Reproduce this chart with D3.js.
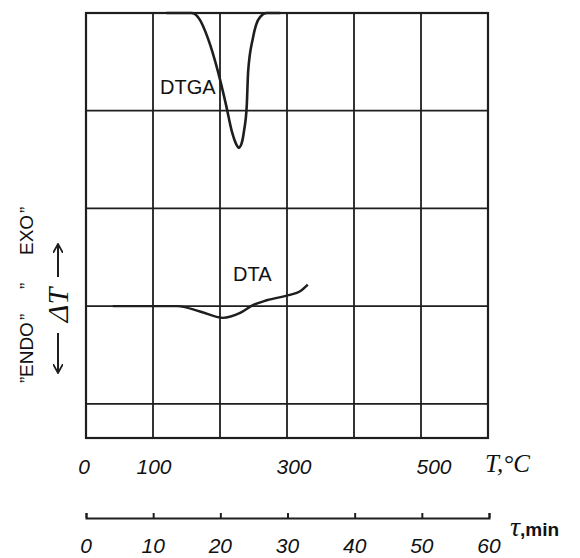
<!DOCTYPE html>
<html>
<head>
<meta charset="utf-8">
<script src="https://cdn.jsdelivr.net/npm/d3@7"></script>
<style>
  html, body { margin: 0; padding: 0; background: #fff; }
  svg { display: block; }
</style>
</head>
<body>
<svg id="chart" width="580" height="558"></svg>
<script>
// ---- data ----
const dtgaT = [120, 158, 170, 182, 197, 209, 218, 224, 228, 232, 236, 240, 242, 249, 254, 260, 270, 290];
const dtgaV = [4.0, 4.0, 3.93, 3.74, 3.40, 3.06, 2.78, 2.66, 2.62, 2.66, 2.80, 3.06, 3.40, 3.74, 3.88, 3.96, 4.0, 4.0];

const dtaT = [40, 101, 136, 170, 204, 230, 249, 270, 304, 319, 331];
const dtaV = [1.0, 1.0, 1.0, 0.945, 0.88, 0.93, 1.01, 1.06, 1.115, 1.15, 1.22];

const tempGrid = [100, 200, 300, 400, 500];
const levelGrid = [0, 1, 2, 3];
const tempTickLabels = [0, 100, 300, 500];
const timeTicks = [0, 10, 20, 30, 40, 50, 60];
const yLabelParts = ["\u201D", "ENDO", "\u201D", "\u201D", "EXO", "\u201D"];

// ---- scales ----
const x = d3.scaleLinear().domain([0, 600]).range([86, 488]);
const y = d3.scaleLinear().domain([-0.35, 4]).range([438, 13]);
const xLabel = d3.scaleLinear().domain([0, 500]).range([84, 434]);
const xTime = d3.scaleLinear().domain([0, 60]).range([86, 489]);

const svg = d3.select("#chart");
const ink = "#1e1e1e";

// ---- grid ----
const g = svg.append("g");
g.selectAll("line.v").data(tempGrid).join("line")
  .attr("x1", d => x(d)).attr("x2", d => x(d))
  .attr("y1", y(4)).attr("y2", y(-0.35))
  .attr("stroke", ink).attr("stroke-width", 1.8);
g.selectAll("line.h").data(levelGrid).join("line")
  .attr("x1", x(0)).attr("x2", x(600))
  .attr("y1", d => y(d)).attr("y2", d => y(d))
  .attr("stroke", ink).attr("stroke-width", 1.8);
g.append("rect")
  .attr("x", x(0)).attr("y", y(4))
  .attr("width", x(600) - x(0)).attr("height", y(-0.35) - y(4))
  .attr("fill", "none").attr("stroke", ink).attr("stroke-width", 2.2);

// ---- curves ----
const line = d3.line().curve(d3.curveMonotoneX)
  .x(d => x(d[0])).y(d => y(d[1]));
svg.append("path")
  .attr("d", line(dtgaT.map((t, i) => [t, dtgaV[i]])))
  .attr("fill", "none").attr("stroke", ink).attr("stroke-width", 2.6);
svg.append("path")
  .attr("d", line(dtaT.map((t, i) => [t, dtaV[i]])))
  .attr("fill", "none").attr("stroke", ink).attr("stroke-width", 2.4);

// ---- curve labels ----
svg.append("text").text("DTGA")
  .attr("x", 160).attr("y", 94)
  .attr("font-family", "Liberation Sans, Arial, sans-serif")
  .attr("font-size", 20).attr("fill", "#111");
svg.append("text").text("DTA")
  .attr("x", 233).attr("y", 281)
  .attr("font-family", "Liberation Sans, Arial, sans-serif")
  .attr("font-size", 20).attr("fill", "#111");

// ---- temperature labels ----
svg.selectAll("text.tl").data(tempTickLabels).join("text")
  .attr("class", "tl")
  .attr("x", d => xLabel(d)).attr("y", 474)
  .attr("text-anchor", "middle")
  .attr("font-family", "Liberation Sans, Arial, sans-serif")
  .attr("font-style", "italic")
  .attr("font-size", 21).attr("fill", "#111")
  .text(d => d);
svg.append("text")
  .attr("x", 485).attr("y", 472)
  .attr("font-family", "Liberation Serif, serif")
  .attr("font-style", "italic")
  .attr("font-size", 25).attr("fill", "#111")
  .text("T,°C");

// ---- time axis ----
const timeAxis = d3.axisTop(xTime).tickValues(timeTicks).tickSize(5).tickFormat("");
const ta = svg.append("g").attr("transform", "translate(0,518)").call(timeAxis);
ta.selectAll("path, line").attr("stroke", ink).attr("stroke-width", 2);
svg.selectAll("text.tt").data(timeTicks).join("text")
  .attr("class", "tt")
  .attr("x", d => xTime(d)).attr("y", 553)
  .attr("text-anchor", "middle")
  .attr("font-family", "Liberation Sans, Arial, sans-serif")
  .attr("font-style", "italic")
  .attr("font-size", 21).attr("fill", "#111")
  .text(d => d);
const tau = svg.append("text").attr("x", 510).attr("y", 536).attr("fill", "#111");
tau.append("tspan")
  .attr("font-family", "Liberation Serif, serif").attr("font-style", "italic")
  .attr("font-size", 28).text("τ");
tau.append("tspan")
  .attr("font-family", "Liberation Sans, Arial, sans-serif").attr("font-weight", "bold")
  .attr("font-size", 19).text(",min");

// ---- y-axis label ----
const partOffsets = [0, 6, 63, 94, 128, 170];
svg.append("text")
  .attr("transform", "translate(33,383) rotate(-90)")
  .attr("font-family", "Liberation Sans, Arial, sans-serif")
  .attr("font-size", 19).attr("fill", "#111")
  .selectAll("tspan").data(yLabelParts).join("tspan")
  .attr("x", (d, i) => partOffsets[i])
  .text(d => d);

const defs = svg.append("defs");
defs.append("marker").attr("id", "ah").attr("viewBox", "0 0 10 10")
  .attr("refX", 8).attr("refY", 5).attr("markerWidth", 10).attr("markerHeight", 10)
  .attr("markerUnits", "userSpaceOnUse").attr("orient", "auto")
  .append("path").attr("d", "M0,0 L9,5 L0,10").attr("fill", "none")
  .attr("stroke", ink).attr("stroke-width", 1.8);
svg.append("line").attr("x1", 58).attr("x2", 58).attr("y1", 333).attr("y2", 372)
  .attr("stroke", ink).attr("stroke-width", 2).attr("marker-end", "url(#ah)");
svg.append("line").attr("x1", 58).attr("x2", 58).attr("y1", 277).attr("y2", 245)
  .attr("stroke", ink).attr("stroke-width", 2).attr("marker-end", "url(#ah)");
svg.append("text")
  .attr("transform", "translate(68,305) rotate(-90)")
  .attr("text-anchor", "middle")
  .attr("font-family", "Liberation Serif, serif")
  .attr("font-style", "italic")
  .attr("font-size", 30).attr("fill", "#111")
  .text("ΔT");
</script>
</body>
</html>
